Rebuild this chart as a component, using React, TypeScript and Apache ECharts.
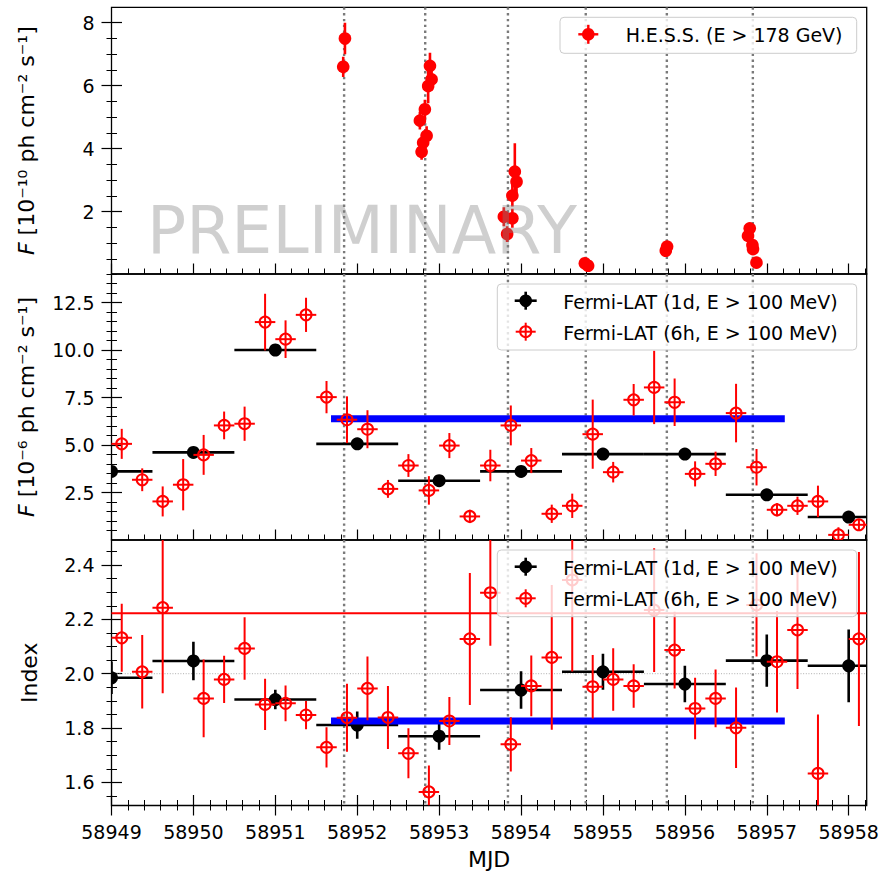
import React, { useEffect, useRef } from 'react';
import * as echarts from 'echarts';

// ---------------- data ----------------
const hessNights = [58951.84, 58952.83, 58953.84, 58954.79, 58955.78, 58956.83];

const hessMjd = [58951.850, 58951.829, 58952.888, 58952.908, 58952.866, 58952.826, 58952.765, 58952.847, 58952.805, 58952.786,
  58953.924, 58953.945, 58953.894, 58953.790, 58953.894, 58953.830, 58954.779, 58954.819, 58955.783, 58955.767,
  58956.792, 58956.771, 58956.825, 58956.832, 58956.874];
const hessFlux = [7.50, 6.60, 6.63, 6.20, 5.99, 5.25, 4.89, 4.41, 4.19, 3.90,
  3.27, 2.95, 2.51, 1.84, 1.79, 1.29, 0.36, 0.28, 0.89, 0.76,
  1.47, 1.23, 0.94, 0.81, 0.38];
const hessErr = [0.50, 0.32, 0.42, 0.35, 0.55, 0.30, 0.28, 0.30, 0.28, 0.25,
  0.90, 0.40, 0.35, 0.30, 0.30, 0.25, 0.10, 0.10, 0.12, 0.12,
  0.15, 0.15, 0.14, 0.12, 0.10];

const dayMjd = [58949, 58950, 58951, 58952, 58953, 58954, 58955, 58956, 58957, 58958];
const dayHalfWidth = [0.5, 0.5, 0.5, 0.5, 0.5, 0.5, 0.5, 0.5, 0.5, 0.5];
const dayFlux = [3.61, 4.61, 10.0, 5.06, 3.12, 3.61, 4.52, 4.52, 2.38, 1.21];
const dayFluxErr = [0.2, 0.22, 0.28, 0.22, 0.18, 0.2, 0.22, 0.22, 0.18, 0.15];
const dayIndex = [1.985, 2.047, 1.905, 1.811, 1.770, 1.940, 2.007, 1.962, 2.048, 2.029];
const dayIndexErr = [0.06, 0.071, 0.036, 0.05, 0.05, 0.069, 0.066, 0.067, 0.096, 0.134];

const sixMjd = [58949.125, 58949.375, 58949.625, 58949.875, 58950.125, 58950.375, 58950.625, 58950.875,
  58951.125, 58951.375, 58951.625, 58951.875, 58952.125, 58952.375, 58952.625, 58952.875,
  58953.125, 58953.375, 58953.625, 58953.875, 58954.125, 58954.375, 58954.625, 58954.875,
  58955.125, 58955.375, 58955.625, 58955.875, 58956.125, 58956.375, 58956.625, 58956.875,
  58957.125, 58957.375, 58957.625, 58957.875, 58958.125];
const sixHalfWidth = 0.125;
const sixFlux = [5.06, 3.17, 2.03, 2.91, 4.48, 6.03, 6.12, 11.47, 10.57, 11.85, 7.52, 6.33, 5.83, 2.69, 3.92, 2.61,
  4.97, 1.24, 3.92, 6.03, 4.18, 1.38, 1.80, 5.57, 3.57, 7.38, 8.03, 7.25, 3.48, 4.01, 6.68, 3.83,
  1.59, 1.80, 2.03, 0.27, 0.80];
const sixFluxErr = [0.79, 0.6, 0.79, 1.35, 1.05, 0.73, 0.9, 1.49, 0.99, 0.9, 0.85, 1.23, 1.0, 0.47, 0.6, 0.75,
  0.66, 0.35, 0.83, 1.05, 0.66, 0.48, 0.64, 1.82, 0.54, 0.83, 1.93, 1.25, 0.66, 0.64, 1.54, 0.96,
  0.35, 0.48, 0.83, 0.4, 0.3];
const sixIndex = [2.132, 2.007, 2.243, null, 1.909, 1.979, 2.093, 1.887, 1.891, 1.848, 1.729, 1.838, 1.946, 1.839,
  1.707, 1.565, 1.826, 2.128, 2.298, 1.740, 1.955, 2.060, 2.345, 1.952, 1.979, 1.955, 2.234, 2.087,
  1.872, 1.909, 1.801, 2.253, 2.044, 2.161, 1.633, null, 2.128];
const sixIndexErr = [0.125, 0.135, 0.315, null, 0.143, 0.087, 0.115, 0.094, 0.066, 0.052, 0.074, 0.125, 0.117, 0.116,
  0.092, 0.097, 0.088, 0.243, 0.195, 0.10, 0.112, 0.266, 0.337, 0.117, 0.115, 0.08, 0.228, 0.141,
  0.113, 0.106, 0.148, 0.19, 0.187, 0.217, 0.217, null, 0.32];

// HESS-period averages and reference levels
const hessPeriod = [58951.68, 58957.22];
const fluxHessAvg = [6.38];
const indexHessAvg = [1.826];
const indexAvgLine = [2.222];
const indexRefLine = [2.0];

// tick labels
const xTicks = [58949, 58950, 58951, 58952, 58953, 58954, 58955, 58956, 58957, 58958];
const y1Ticks = [2, 4, 6, 8];
const y2Ticks = [2.5, 5.0, 7.5, 10.0, 12.5];
const y3Ticks = [1.6, 1.8, 2.0, 2.2, 2.4];

// ---------------- layout ----------------
const XR: [number, number] = [58949, 58958.22];
const YR: [number, number][] = [[0.02, 8.49], [0.0, 14.0], [1.515, 2.492]];
const GL = 111.5;
const GW = 755.2;
const GT = [7.3, 274, 540];
const GH = [266.7, 266, 265.5];
const FONT = '"DejaVu Sans", "Noto Sans", sans-serif';

const steps = (a: number, b: number, s: number) => {
  const out: number[] = [];
  for (let i = 0; a + i * s <= b + 1e-9; i++) out.push(+(a + i * s).toFixed(4));
  return out;
};
const xMinor = steps(58949, 58958.2, 0.2);
const yMinor = [steps(0.5, 8.0, 0.5), steps(0.5, 14.0, 0.5), steps(1.55, 2.45, 0.05)];
const yMajor = [y1Ticks, y2Ticks, y3Ticks];
const yFmt = [(v: number) => String(Math.round(v)), (v: number) => v.toFixed(1), (v: number) => v.toFixed(1)];
const yNames = ['{i|F} [10\u207B\u00B9\u2070 ph cm\u207B\u00B2 s\u207B\u00B9]', '{i|F} [10\u207B\u2076 ph cm\u207B\u00B2 s\u207B\u00B9]', 'Index'];
const yNameGap = [64, 64, 61];

function errSeries(g: number, data: number[][], st: any) {
  return {
    type: 'custom',
    xAxisIndex: g * 2,
    yAxisIndex: g * 2,
    clip: true,
    z: st.z,
    silent: true,
    data,
    encode: { x: 0, y: 1 },
    renderItem: (params: any, api: any) => {
      const cs = params.coordSys;
      const x = api.value(0), y = api.value(1), ye = api.value(2), xe = api.value(3);
      const p = api.coord([x, y]);
      const yt = api.coord([x, y + ye])[1];
      const yb = api.coord([x, y - ye])[1];
      const xl = api.coord([x - xe, y])[0];
      const xr = api.coord([x + xe, y])[0];
      const cy = (v: number) => Math.max(cs.y, Math.min(cs.y + cs.height, v));
      const cx = (v: number) => Math.max(cs.x, Math.min(cs.x + cs.width, v));
      const children: any[] = [];
      if (ye > 0) children.push({ type: 'line', shape: { x1: p[0], y1: cy(yt), x2: p[0], y2: cy(yb) }, style: { stroke: st.color, lineWidth: st.ylw } });
      if (xe > 0) children.push({ type: 'line', shape: { x1: cx(xl), y1: p[1], x2: cx(xr), y2: p[1] }, style: { stroke: st.color, lineWidth: st.xlw } });
      children.push({
        type: 'circle', shape: { cx: p[0], cy: p[1], r: st.r },
        style: st.open ? { fill: 'none', stroke: st.color, lineWidth: st.mlw } : { fill: st.color },
      });
      return { type: 'group', children };
    },
  };
}

function segSeries(g: number, data: number[][], st: any) {
  return {
    type: 'custom', xAxisIndex: g * 2, yAxisIndex: g * 2, clip: true, z: st.z, silent: true,
    data, encode: { x: [0, 1], y: 2 },
    renderItem: (params: any, api: any) => {
      const a = api.coord([api.value(0), api.value(2)]);
      const b = api.coord([api.value(1), api.value(2)]);
      return { type: 'line', shape: { x1: a[0], y1: a[1], x2: b[0], y2: b[1] }, style: { stroke: st.color, lineWidth: st.lw, lineDash: st.dash } };
    },
  };
}

function vlineSeries(g: number) {
  return {
    type: 'custom', xAxisIndex: g * 2, yAxisIndex: g * 2, clip: true, z: 1, silent: true,
    data: hessNights.map((t) => [t, YR[g][0]]), encode: { x: 0, y: 1 },
    renderItem: (params: any, api: any) => {
      const cs = params.coordSys;
      const px = api.coord([api.value(0), YR[g][0]])[0];
      return { type: 'line', shape: { x1: px, y1: cs.y, x2: px, y2: cs.y + cs.height }, style: { stroke: '#7a7a7a', lineWidth: 2.4, lineDash: [2.4, 3.4] } };
    },
  };
}

function buildOption() {
  const grid = [0, 1, 2].map((g) => ({
    left: GL, top: GT[g], width: GW, height: GH[g], show: true, borderColor: '#000', borderWidth: 1.3,
    backgroundColor: 'transparent', containLabel: false, outerBoundsMode: 'none',
  }));
  const xAxis: any[] = [];
  const yAxis: any[] = [];
  for (let g = 0; g < 3; g++) {
    const last = g === 2;
    xAxis.push({
      type: 'value', gridIndex: g, min: XR[0], max: XR[1], position: 'bottom', offset: last ? 10 : 0,
      splitLine: { show: false }, axisLine: { show: false },
      axisTick: { show: true, inside: true, length: last ? 20.5 : 10.5, customValues: xTicks, lineStyle: { color: '#000', width: 1.2 } },
      axisLabel: { show: last, customValues: xTicks, formatter: (v: number) => String(Math.round(v)), fontSize: 19, color: '#000', fontFamily: FONT, margin: 7 },
      name: last ? 'MJD' : '', nameLocation: 'middle', nameGap: 33,
      nameTextStyle: { fontSize: 22, color: '#000', fontFamily: FONT },
    });
    xAxis.push({
      type: 'value', gridIndex: g, min: XR[0], max: XR[1], position: 'bottom', offset: last ? 5 : 0,
      splitLine: { show: false }, axisLine: { show: false }, axisLabel: { show: false },
      axisTick: { show: true, inside: true, length: last ? 10.5 : 5.5, customValues: xMinor, lineStyle: { color: '#000', width: 1 } },
    });
    yAxis.push({
      type: 'value', gridIndex: g, min: YR[g][0], max: YR[g][1], position: 'left', offset: 10,
      splitLine: { show: false }, axisLine: { show: false },
      axisTick: { show: true, inside: true, length: 20.5, customValues: yMajor[g], lineStyle: { color: '#000', width: 1.2 } },
      axisLabel: { show: true, customValues: yMajor[g], formatter: yFmt[g], fontSize: 19, color: '#000', fontFamily: FONT, margin: 7 },
      name: yNames[g], nameLocation: 'middle', nameRotate: 90, nameGap: yNameGap[g],
      nameTextStyle: { fontSize: 22, color: '#000', fontFamily: FONT, rich: { i: { fontStyle: 'italic', fontSize: 22, fontFamily: FONT, color: '#000' } } },
    });
    yAxis.push({
      type: 'value', gridIndex: g, min: YR[g][0], max: YR[g][1], position: 'left', offset: 5,
      splitLine: { show: false }, axisLine: { show: false }, axisLabel: { show: false },
      axisTick: { show: true, inside: true, length: 10.5, customValues: yMinor[g], lineStyle: { color: '#000', width: 1 } },
    });
  }

  const red = '#ff0000';
  const hessData = hessMjd.map((x, i) => [x, hessFlux[i], hessErr[i], 0]);
  const dayFluxData = dayMjd.map((x, i) => [x, dayFlux[i], dayFluxErr[i], dayHalfWidth[i]]);
  const dayIdxData = dayMjd.map((x, i) => [x, dayIndex[i], dayIndexErr[i], dayHalfWidth[i]]);
  const sixFluxData = sixMjd.map((x, i) => [x, sixFlux[i], sixFluxErr[i], sixHalfWidth]);
  const sixIdxData = sixMjd
    .map((x, i) => (sixIndex[i] == null ? null : [x, sixIndex[i] as number, sixIndexErr[i] as number, sixHalfWidth]))
    .filter((d) => d !== null) as number[][];

  const series: any[] = [
    vlineSeries(0), vlineSeries(1), vlineSeries(2),
    errSeries(0, hessData, { color: red, r: 6.3, ylw: 2.6, xlw: 2.6, z: 5 }),
    errSeries(1, dayFluxData, { color: '#000', r: 6.5, ylw: 2.6, xlw: 2.6, z: 3 }),
    segSeries(1, [[hessPeriod[0], hessPeriod[1], fluxHessAvg[0]]], { color: '#0000ff', lw: 7, z: 4 }),
    errSeries(1, sixFluxData, { color: red, r: 5.5, ylw: 2, xlw: 2, open: true, mlw: 2, z: 5 }),
    segSeries(2, [[XR[0], XR[1], indexRefLine[0]]], { color: '#999999', lw: 0.8, dash: [1, 1.65], z: 2 }),
    segSeries(2, [[XR[0], XR[1], indexAvgLine[0]]], { color: red, lw: 2, z: 2 }),
    errSeries(2, dayIdxData, { color: '#000', r: 6.5, ylw: 2.6, xlw: 2.6, z: 3 }),
    segSeries(2, [[hessPeriod[0], hessPeriod[1], indexHessAvg[0]]], { color: '#0000ff', lw: 7, z: 4 }),
    errSeries(2, sixIdxData, { color: red, r: 5.5, ylw: 2, xlw: 2, open: true, mlw: 2, z: 5 }),
  ];

  const box = (x: number, y: number, w: number, h: number) => ({
    type: 'rect', z: 100, silent: true, shape: { x, y, width: w, height: h, r: 4 },
    style: { fill: 'rgba(255,255,255,0.8)', stroke: '#cccccc', lineWidth: 1 },
  });
  const marker = (cx: number, cy: number, color: string, open: boolean, hw: number, vh: number, lw: number, r: number) => [
    { type: 'line', z: 101, silent: true, shape: { x1: cx - hw, y1: cy, x2: cx + hw, y2: cy }, style: { stroke: color, lineWidth: lw } },
    { type: 'line', z: 101, silent: true, shape: { x1: cx, y1: cy - vh, x2: cx, y2: cy + vh }, style: { stroke: color, lineWidth: lw } },
    { type: 'circle', z: 102, silent: true, shape: { cx, cy, r }, style: open ? { fill: 'none', stroke: color, lineWidth: 2 } : { fill: color } },
  ];
  const ltext = (x: number, y: number, text: string) => ({
    type: 'text', z: 102, silent: true, x, y,
    style: { text, font: `19px ${FONT}`, fill: '#000', textAlign: 'left', textVerticalAlign: 'middle', align: 'left', verticalAlign: 'middle' },
  });

  const graphic: any[] = [
    {
      type: 'text', z: 50, silent: true, x: 147, y: 230,
      style: { text: 'PRELIMINARY', font: `65px ${FONT}`, fill: 'rgba(128,128,128,0.38)', textAlign: 'left', textVerticalAlign: 'middle', align: 'left', verticalAlign: 'middle' },
    },
    box(560, 17.3, 296.7, 36),
    ...marker(588.3, 34.3, red, false, 10, 9.5, 2.4, 6.3),
    ltext(625.7, 35, 'H.E.S.S. (E > 178 GeV)'),
    box(497.3, 284, 359.4, 66),
    ...marker(525.7, 300.7, '#000', false, 11, 9, 2.6, 6.3),
    ltext(563.3, 301.5, 'Fermi-LAT (1d, E > 100 MeV)'),
    ...marker(525.7, 331.7, red, true, 10, 9, 2, 5.5),
    ltext(563.3, 332.5, 'Fermi-LAT (6h, E > 100 MeV)'),
    box(497.3, 550, 359.4, 66.7),
    ...marker(525.7, 566.7, '#000', false, 11, 9, 2.6, 6.3),
    ltext(563.3, 567.5, 'Fermi-LAT (1d, E > 100 MeV)'),
    ...marker(525.7, 598.3, red, true, 10, 9, 2, 5.5),
    ltext(563.3, 599, 'Fermi-LAT (6h, E > 100 MeV)'),
  ];

  return { animation: false, backgroundColor: '#ffffff', textStyle: { fontFamily: FONT }, grid, xAxis, yAxis, series, graphic };
}

export default function App() {
  const ref = useRef<HTMLDivElement>(null);
  useEffect(() => {
    if (!ref.current) return;
    const chart = echarts.init(ref.current, undefined, { renderer: 'svg' });
    chart.setOption(buildOption() as any);
    return () => chart.dispose();
  }, []);
  return <div ref={ref} style={{ position: 'fixed', left: 0, top: 0, width: 883, height: 875, background: '#fff' }} />;
}
